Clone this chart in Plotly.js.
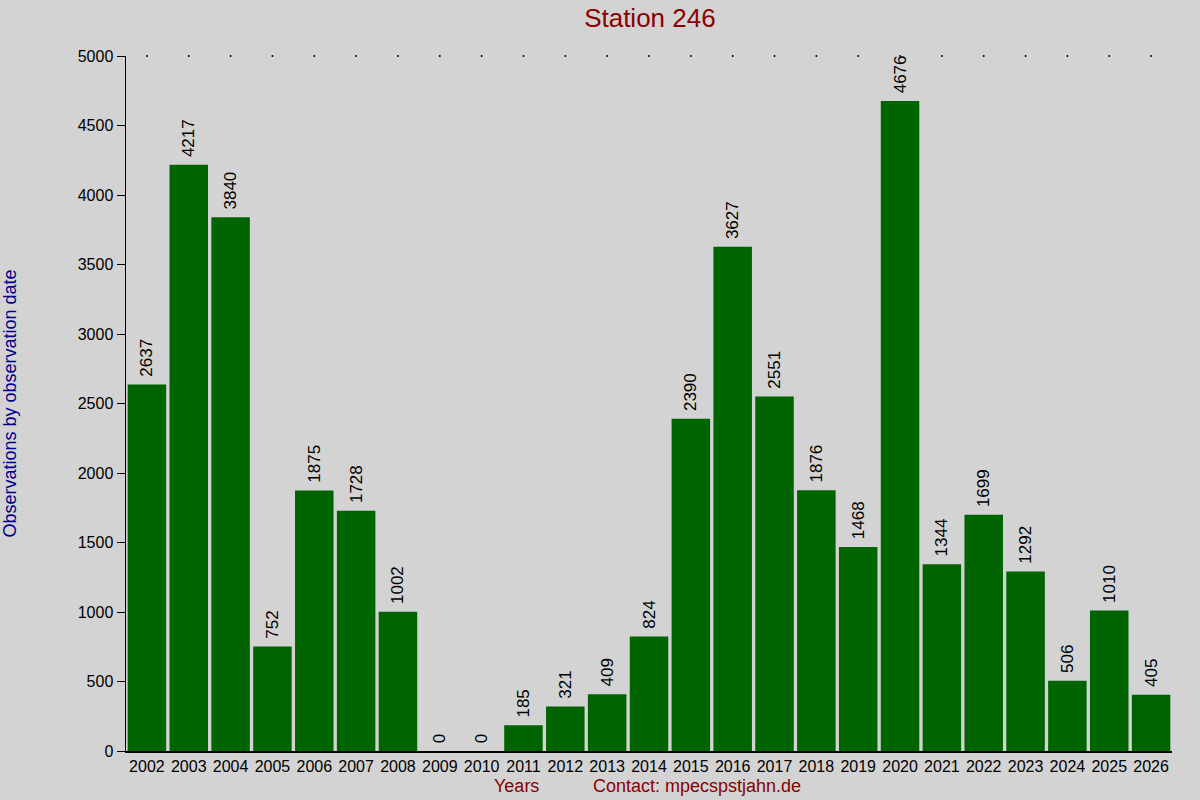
<!DOCTYPE html>
<html>
<head>
<meta charset="utf-8">
<script src="https://cdn.plot.ly/plotly-3.0.1.min.js"></script>
<style>
  html, body { margin: 0; padding: 0; background: #d3d3d3; }
  #chart { width: 1200px; height: 800px; }
</style>
</head>
<body>
<div id="chart"></div>
<script>
// Station 246 — observations per year
const years = ['2002', '2003', '2004', '2005', '2006', '2007', '2008', '2009', '2010', '2011', '2012', '2013', '2014',
  '2015', '2016', '2017', '2018', '2019', '2020', '2021', '2022', '2023', '2024', '2025', '2026'];
const counts = [2637, 4217, 3840, 752, 1875, 1728, 1002, 0, 0, 185, 321, 409, 824,
  2390, 3627, 2551, 1876, 1468, 4676, 1344, 1699, 1292, 506, 1010, 405];
const yTicks = [0, 500, 1000, 1500, 2000, 2500, 3000, 3500, 4000, 4500, 5000];
const yMax = 5000;

const FONT = 'Liberation Sans, Arial, sans-serif';

const bars = {
  type: 'bar', x: years, y: counts,
  marker: { color: '#006400', line: { width: 0 } },
  // leading nbsp gives the small gap between bar top and rotated label
  text: counts.map(v => '\u00a0' + v),
  textposition: 'outside',
  textangle: -90,
  constraintext: 'none',
  cliponaxis: false,
  textfont: { family: FONT, size: 17, color: '#000000' },
  hoverinfo: 'x+y'
};

// dotted marks along the top of the plot, one per year
const topDots = {
  type: 'scatter', mode: 'markers', x: years, y: years.map(() => yMax),
  marker: { color: '#000000', size: 2 },
  hoverinfo: 'skip', cliponaxis: false
};

const layout = {
  width: 1200, height: 800,
  paper_bgcolor: '#d3d3d3', plot_bgcolor: '#d3d3d3',
  margin: { t: 56, r: 28, b: 49, l: 126 },
  showlegend: false,
  bargap: 0.08,
  font: { family: FONT, color: '#000000' },
  title: { text: 'Station 246', x: 0.5416, xanchor: 'center', y: 0.978, yanchor: 'middle',
    font: { family: FONT, size: 26, color: '#8b0000' } },
  xaxis: {
    type: 'category', range: [-0.5, years.length - 0.5],
    showgrid: false, zeroline: false,
    showline: true, linecolor: '#000000', linewidth: 1.5,
    ticks: '', tickfont: { family: FONT, size: 16, color: '#000000' },
    fixedrange: true
  },
  yaxis: {
    range: [0, yMax], tickvals: yTicks, ticktext: yTicks.map(String),
    showgrid: false, zeroline: false,
    showline: true, linecolor: '#000000', linewidth: 1.5,
    ticks: 'outside', ticklen: 8, tickcolor: '#000000', tickwidth: 1,
    tickfont: { family: FONT, size: 16, color: '#000000' },
    title: { text: 'Observations by observation date', standoff: 56,
      font: { family: FONT, size: 18, color: '#00008b' } },
    fixedrange: true
  },
  annotations: [
    { text: 'Years', xref: 'paper', yref: 'paper', x: 0.373, y: -0.05, xanchor: 'center', yanchor: 'middle',
      showarrow: false, font: { family: FONT, size: 18, color: '#8b0000' } },
    { text: 'Contact: mpecspstjahn.de', xref: 'paper', yref: 'paper', x: 0.546, y: -0.05, xanchor: 'center', yanchor: 'middle',
      showarrow: false, font: { family: FONT, size: 18, color: '#8b0000' } }
  ]
};

Plotly.newPlot('chart', [bars, topDots], layout, { displayModeBar: false, staticPlot: true });
</script>
</body>
</html>
